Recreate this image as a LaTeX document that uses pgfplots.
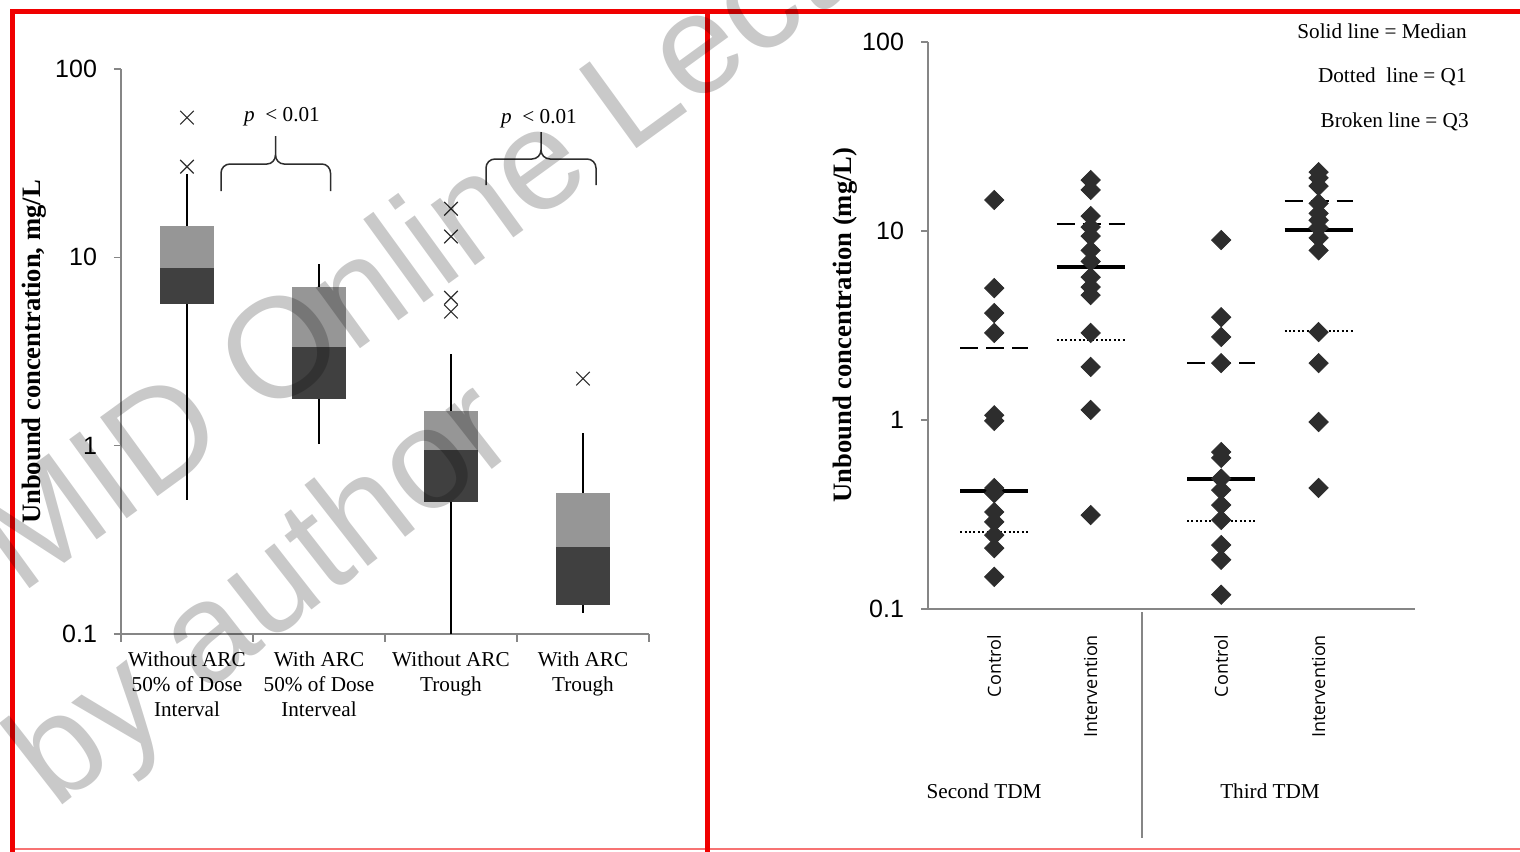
\documentclass[border=0pt]{standalone}
\usepackage{fontspec}
\setmainfont{Liberation Serif}
\newfontfamily\arialf{Liberation Sans}
\newfontfamily\osans{Open Sans}
\usepackage{pgfplots}
\pgfplotsset{compat=1.18}

\definecolor{axgray}{RGB}{134,134,134}
\definecolor{boxlight}{RGB}{150,150,150}
\definecolor{boxdark}{RGB}{64,64,64}
\definecolor{mk}{RGB}{45,45,45}
\definecolor{frame}{RGB}{240,0,0}

\tikzset{
  whisk/.style={black, line width=0.75pt},
  outl/.style={only marks, mark=x, mark size=4.8pt, mark options={draw=mk, line width=0.6pt}},
  diam/.style={only marks, mark=square*, mark size=3.4pt, mark options={rotate=45, fill=mk, draw=mk}},
  med/.style={black, line width=2.2pt},
  qone/.style={black, line width=1pt, dash pattern=on 1pt off 1.2pt},
  qthree/.style={black, line width=1pt, dash pattern=on 9pt off 4pt},
}

\begin{document}
\begin{tikzpicture}
\path[use as bounding box] (0,0) rectangle (760pt,-425.5pt);

% left panel: box plots
\begin{axis}[
  scale only axis, anchor=south west, clip=false,
  at={(60.5pt,-317pt)}, width=264pt, height=282.5pt,
  ymode=log, ymin=0.1, ymax=100,
  ytick={0.1,1,10,100}, yticklabels={0.1,1,10,100}, yminorticks=false,
  axis lines=left, axis line style={draw=axgray, line width=0.75pt, -},
  tick align=outside, tick style={draw=axgray, line width=0.75pt},
  major tick length=3.5pt, minor tick length=4pt,
  major x tick style={draw=none},
  yticklabel style={font=\arialf\fontsize{12.5}{14}\selectfont, xshift=-5pt},
  xmin=-0.5, xmax=3.5, xtick={0,1,2,3},
  minor xtick={-0.5,0.5,1.5,2.5,3.5},
  xticklabels={{Without ARC\\50\% of Dose\\Interval},{With ARC\\50\% of Dose\\Interveal},{Without ARC\\Trough},{With ARC\\Trough}},
  xticklabel style={align=center, anchor=north, font=\fontsize{10.6}{12.5}\selectfont},
  xticklabel shift=2pt]

\addplot[whisk] coordinates {(0,0.517) (0,27.8)};
\addplot[whisk] coordinates {(1,1.02) (1,9.26)};
\addplot[whisk] coordinates {(2,0.1) (2,3.08)};
\addplot[whisk] coordinates {(3,0.13) (3,1.17)};

\addplot[fill=boxdark, draw=none] coordinates {(-0.205,5.68) (0.205,5.68) (0.205,8.82) (-0.205,8.82)} -- cycle;
\addplot[fill=boxlight, draw=none] coordinates {(-0.205,8.82) (0.205,8.82) (0.205,14.7) (-0.205,14.7)} -- cycle;
\addplot[fill=boxdark, draw=none] coordinates {(0.795,1.78) (1.205,1.78) (1.205,3.36) (0.795,3.36)} -- cycle;
\addplot[fill=boxlight, draw=none] coordinates {(0.795,3.36) (1.205,3.36) (1.205,6.99) (0.795,6.99)} -- cycle;
\addplot[fill=boxdark, draw=none] coordinates {(1.795,0.50) (2.205,0.50) (2.205,0.95) (1.795,0.95)} -- cycle;
\addplot[fill=boxlight, draw=none] coordinates {(1.795,0.95) (2.205,0.95) (2.205,1.53) (1.795,1.53)} -- cycle;
\addplot[fill=boxdark, draw=none] coordinates {(2.795,0.143) (3.205,0.143) (3.205,0.291) (2.795,0.291)} -- cycle;
\addplot[fill=boxlight, draw=none] coordinates {(2.795,0.291) (3.205,0.291) (3.205,0.563) (2.795,0.563)} -- cycle;

\addplot[outl] coordinates {(0,55.2) (0,30.3) (2,18.1) (2,12.9) (2,6.1) (2,5.15) (3,2.27)};
\end{axis}

% right panel: individual values
\begin{axis}[
  scale only axis, anchor=south west, clip=false,
  at={(464pt,-304.5pt)}, width=243.5pt, height=283.5pt,
  ymode=log, ymin=0.1, ymax=100,
  ytick={0.1,1,10,100}, yticklabels={0.1,1,10,100}, yminorticks=false,
  axis lines=left, axis line style={draw=axgray, line width=0.75pt, -},
  tick align=outside, tick style={draw=axgray, line width=0.75pt},
  major tick length=3.5pt,
  major x tick style={draw=none},
  yticklabel style={font=\arialf\fontsize{12.5}{14}\selectfont, xshift=-5pt},
  xmin=0, xmax=5, xtick={0.68,1.67,3.01,4.01},
  xticklabels={Control,Intervention,Control,Intervention},
  xticklabel style={rotate=90, anchor=east, font=\osans\fontsize{9}{11}\selectfont},
  xticklabel shift=6pt]

\addplot[qone] coordinates {(0.33,0.255) (1.03,0.255)};
\addplot[qthree] coordinates {(0.33,2.40) (1.03,2.40)};
\addplot[qone] coordinates {(1.32,2.65) (2.02,2.65)};
\addplot[qthree] coordinates {(1.32,10.9) (2.02,10.9)};
\addplot[qone] coordinates {(2.66,0.292) (3.36,0.292)};
\addplot[qthree] coordinates {(2.66,2.0) (3.36,2.0)};
\addplot[qone] coordinates {(3.66,2.96) (4.36,2.96)};
\addplot[qthree] coordinates {(3.66,14.4) (4.36,14.4)};

\addplot[diam] coordinates {(0.68,14.6) (0.68,4.99) (0.68,3.68) (0.68,2.89) (0.68,1.06) (0.68,0.99) (0.68,0.437) (0.68,0.41) (0.68,0.326) (0.68,0.289) (0.68,0.246) (0.68,0.21) (0.68,0.148)};
\addplot[diam] coordinates {(1.67,18.6) (1.67,16.5) (1.67,12.0) (1.67,10.5) (1.67,9.4) (1.67,7.9) (1.67,6.9) (1.67,5.7) (1.67,5.05) (1.67,4.58) (1.67,2.89) (1.67,1.91) (1.67,1.13) (1.67,0.314)};
\addplot[diam] coordinates {(3.01,8.96) (3.01,3.5) (3.01,2.75) (3.01,2.0) (3.01,0.677) (3.01,0.63) (3.01,0.49) (3.01,0.426) (3.01,0.355) (3.01,0.296) (3.01,0.218) (3.01,0.182) (3.01,0.119)};
\addplot[diam] coordinates {(4.01,20.5) (4.01,19.1) (4.01,17.3) (4.01,14.0) (4.01,12.4) (4.01,11.4) (4.01,10.4) (4.01,9.2) (4.01,7.9) (4.01,2.92) (4.01,2.0) (4.01,0.976) (4.01,0.437)};

\addplot[med] coordinates {(0.33,0.42) (1.03,0.42)};
\addplot[med] coordinates {(1.32,6.45) (2.02,6.45)};
\addplot[med] coordinates {(2.66,0.487) (3.36,0.487)};
\addplot[med] coordinates {(3.66,10.1) (4.36,10.1)};
\end{axis}

% annotations in pixel units of the reference
\begin{scope}[x=0.5pt, y=-0.5pt]
\node[rotate=90, font=\bfseries\fontsize{13.3}{15}\selectfont] at (34,352) {Unbound concentration, mg/L};
\node[rotate=90, font=\bfseries\fontsize{13.3}{15}\selectfont] at (845,325) {Unbound concentration (mg/L)};

\draw[mk, line width=0.75pt] (221,191) -- (221,173) to[out=90,in=180] (230,164) -- (267,164) to[out=0,in=-90] (275.5,155) -- (275.5,136);
\draw[mk, line width=0.75pt] (275.5,155) to[out=-90,in=180] (284,164) -- (322,164) to[out=0,in=90] (330.5,173) -- (330.5,191);
\draw[mk, line width=0.75pt] (486,185) -- (486,168) to[out=90,in=180] (495,159) -- (532,159) to[out=0,in=-90] (541,150) -- (541,132);
\draw[mk, line width=0.75pt] (541,150) to[out=-90,in=180] (550,159) -- (587,159) to[out=0,in=90] (596,168) -- (596,185);
\node[font=\fontsize{10.6}{12.5}\selectfont] at (282,117) {\textit{p}~ < 0.01};
\node[font=\fontsize{10.6}{12.5}\selectfont] at (539,119) {\textit{p}~ < 0.01};

\node[anchor=east, inner sep=0pt, font=\fontsize{10.6}{12.5}\selectfont] at (1467,31) {Solid line = Median};
\node[anchor=east, inner sep=0pt, font=\fontsize{10.6}{12.5}\selectfont] at (1467,77) {Dotted~ line = Q1};
\node[anchor=east, inner sep=0pt, font=\fontsize{10.6}{12.5}\selectfont] at (1469,122) {Broken line = Q3};

\draw[axgray, line width=0.75pt] (1142,612) -- (1142,838);
\node[font=\fontsize{10.6}{12.5}\selectfont] at (984,791) {Second TDM};
\node[font=\fontsize{10.6}{12.5}\selectfont] at (1270,791) {Third TDM};

\draw[frame!55, line width=1pt] (12,849) -- (1530,849);
\draw[frame, line width=2.5pt] (12,870) -- (12,11) -- (1530,11);
\draw[frame, line width=2.5pt] (707,11) -- (707,870);

\node[rotate=36, anchor=base west, text=black, text opacity=0.21, font=\arialf\fontsize{71}{71}\selectfont] at (15,600) {MID Online Lecture};
\node[rotate=38, anchor=base west, text=black, text opacity=0.21, font=\arialf\fontsize{71}{71}\selectfont] at (50,815) {by author};
\end{scope}
\end{tikzpicture}
\end{document}
